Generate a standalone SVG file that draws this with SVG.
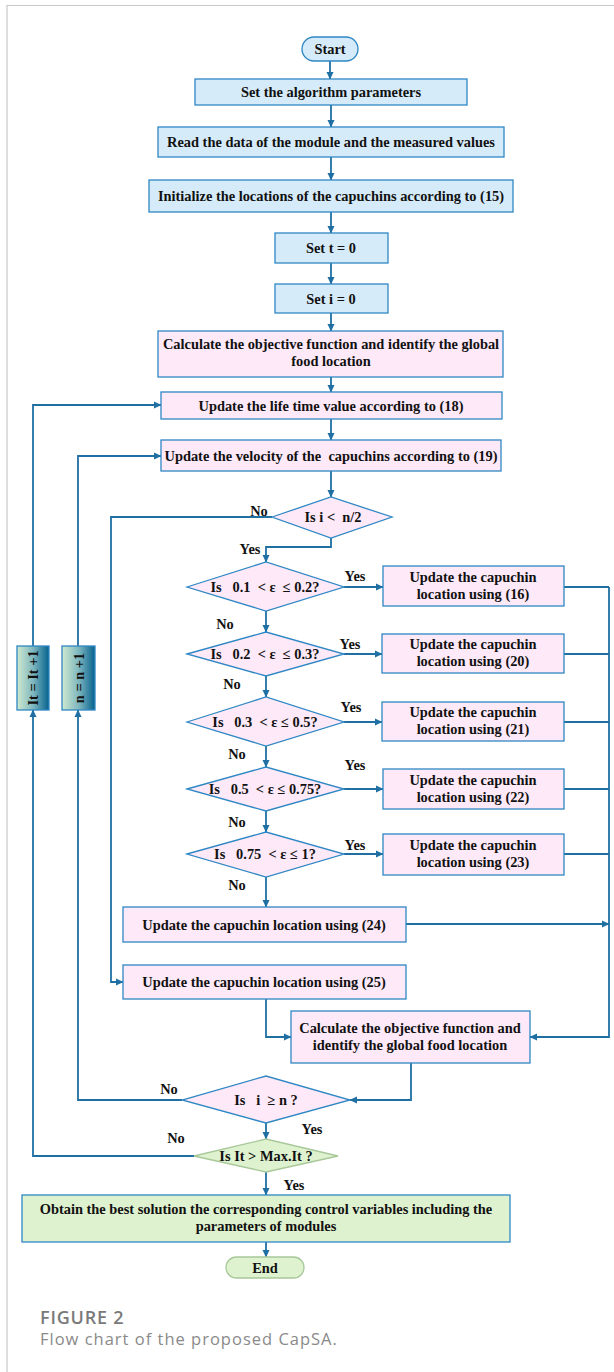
<svg xmlns="http://www.w3.org/2000/svg" width="614" height="1372" viewBox="0 0 614 1372">
<defs>
<marker id="ah" markerWidth="8" markerHeight="8" refX="7" refY="4" orient="auto" markerUnits="userSpaceOnUse">
<path d="M0,0.5 L7.5,4 L0,7.5 Z" fill="#1f6fa3"/>
</marker>
<linearGradient id="side" x1="0" y1="0" x2="1" y2="0">
<stop offset="0" stop-color="#cfe9cf"/>
<stop offset="0.5" stop-color="#7fb7bf"/>
<stop offset="1" stop-color="#06628e"/>
</linearGradient>
<style>
.t{font-family:"Liberation Serif","Times New Roman",serif;font-weight:bold;font-size:14.4px;fill:#111;text-anchor:middle;white-space:pre}
.lb{font-family:"Liberation Serif","Times New Roman",serif;font-weight:bold;font-size:14.4px;fill:#111;text-anchor:middle}
.blue{fill:#d6ebf9;stroke:#2f87c4;stroke-width:1.3}
.pink{fill:#fde9f8;stroke:#2f87c4;stroke-width:1.3}
.green{fill:#dff2cf;stroke:#2f87c4;stroke-width:1.3}
.gd{fill:#dff2cf;stroke:#a8c89a;stroke-width:1.3}
.sd{fill:url(#side);stroke:#2f87c4;stroke-width:1.3}
.c{fill:none;stroke:#1f6fa3;stroke-width:1.8}
.a{fill:none;stroke:#1f6fa3;stroke-width:1.8;marker-end:url(#ah)}
</style>
</defs>
<rect width="614" height="1372" fill="#ffffff"/>
<g id="frame"><path d="M7,1372 L7,5.5 L614,5.5" fill="none" stroke="#c8c8c8" stroke-width="1.2"/></g>

<g id="connectors">
<path class="a" d="M330,61 V79"/>
<path class="a" d="M331,105 V127"/>
<path class="a" d="M331,157 V180"/>
<path class="a" d="M331,212 V233"/>
<path class="a" d="M331,263 V284"/>
<path class="a" d="M331,313 V331"/>
<path class="a" d="M331,377 V392"/>
<path class="a" d="M331,419 V440"/>
<path class="a" d="M331,471 V497"/>
<path class="a" d="M331,538 V547 H266 V562"/>
<path class="a" d="M272,517 H111 V982 H123"/>
<path class="a" d="M344,587 H383"/>
<path class="a" d="M266,611 V632"/>
<path class="a" d="M344,654 H382"/>
<path class="a" d="M266,676 V697"/>
<path class="a" d="M344,722 H382"/>
<path class="a" d="M266,746 V767"/>
<path class="a" d="M344,789 H383"/>
<path class="a" d="M266,811 V832"/>
<path class="a" d="M344,854 H383"/>
<path class="a" d="M266,877 V907"/>
<path class="c" d="M564,587 H609"/>
<path class="c" d="M564,654 H609"/>
<path class="c" d="M564,722 H609"/>
<path class="c" d="M564,789 H609"/>
<path class="c" d="M564,854 H609"/>
<path class="a" d="M406,924 H609"/>
<path class="a" d="M609,587 V1037 H530"/>
<path class="a" d="M266,999 V1037 H291"/>
<path class="a" d="M411,1063 V1100 H350"/>
<path class="a" d="M182,1100 H78 V710"/>
<path class="a" d="M78,646 V456 H161"/>
<path class="a" d="M194,1156 H33 V710"/>
<path class="a" d="M33,646 V405 H161"/>
<path class="a" d="M266,1123 V1139"/>
<path class="a" d="M266,1172 V1195"/>
<path class="a" d="M266,1242 V1257"/>
</g>

<g id="start"><rect class="blue" x="302" y="37" width="56" height="24" rx="12"/><text class="t" x="330" y="54">Start</text></g>
<g id="set-params"><rect class="blue" x="195" y="79" width="272" height="26"/><text class="t" x="331" y="97">Set the algorithm parameters</text></g>
<g id="read-data"><rect class="blue" x="158" y="127" width="346" height="30"/><text class="t" x="331" y="147">Read the data of the module and the measured values</text></g>
<g id="init"><rect class="blue" x="149" y="180" width="364" height="32"/><text class="t" x="331" y="201">Initialize the locations of the capuchins according to (15)</text></g>
<g id="set-t"><rect class="blue" x="275" y="233" width="113" height="30"/><text class="t" x="331" y="253">Set t = 0</text></g>
<g id="set-i"><rect class="blue" x="275" y="284" width="113" height="29"/><text class="t" x="331" y="303.5">Set i = 0</text></g>
<g id="calc1"><rect class="pink" x="158" y="331" width="345" height="46"/><text class="t" x="331" y="349">Calculate the objective function and identify the global</text><text class="t" x="331" y="366">food location</text></g>
<g id="lifetime"><rect class="pink" x="161" y="392" width="341" height="27"/><text class="t" x="331" y="410.5">Update the life time value according to (18)</text></g>
<g id="velocity"><rect class="pink" x="161" y="440" width="340" height="31"/><text class="t" x="331" y="460.5">Update the velocity of the  capuchins according to (19)</text></g>

<g id="dec-half"><polygon class="pink" points="272,517 331,497 392,517 331,538"/><text class="t" x="333" y="522">Is i &lt;  n/2</text></g>
<g id="dec-1"><polygon class="pink" points="187,587 266,562 344,587 266,611"/><text class="t" x="265" y="592">Is   0.1  &lt; ε  ≤ 0.2?</text></g>
<g id="dec-2"><polygon class="pink" points="187,654 266,632 344,654 266,676"/><text class="t" x="265" y="659">Is   0.2  &lt; ε  ≤ 0.3?</text></g>
<g id="dec-3"><polygon class="pink" points="187,722 266,697 344,722 266,746"/><text class="t" x="265" y="727">Is   0.3  &lt; ε ≤ 0.5?</text></g>
<g id="dec-4"><polygon class="pink" points="187,789 266,767 344,789 266,811"/><text class="t" x="265" y="794">Is   0.5  &lt; ε ≤ 0.75?</text></g>
<g id="dec-5"><polygon class="pink" points="187,854 266,832 344,854 266,877"/><text class="t" x="265" y="859">Is   0.75  &lt; ε ≤ 1?</text></g>

<g id="upd16"><rect class="pink" x="383" y="566" width="181" height="40"/><text class="t" x="473" y="582">Update the capuchin</text><text class="t" x="473" y="599">location using (16)</text></g>
<g id="upd20"><rect class="pink" x="382" y="634" width="182" height="39"/><text class="t" x="473" y="649">Update the capuchin</text><text class="t" x="473" y="666">location using (20)</text></g>
<g id="upd21"><rect class="pink" x="382" y="702" width="182" height="39"/><text class="t" x="473" y="717">Update the capuchin</text><text class="t" x="473" y="734">location using (21)</text></g>
<g id="upd22"><rect class="pink" x="383" y="769" width="181" height="40"/><text class="t" x="473" y="785">Update the capuchin</text><text class="t" x="473" y="802">location using (22)</text></g>
<g id="upd23"><rect class="pink" x="383" y="834" width="181" height="41"/><text class="t" x="473" y="850">Update the capuchin</text><text class="t" x="473" y="867">location using (23)</text></g>
<g id="upd24"><rect class="pink" x="123" y="907" width="283" height="35"/><text class="t" x="264" y="929.5">Update the capuchin location using (24)</text></g>
<g id="upd25"><rect class="pink" x="123" y="965" width="283" height="34"/><text class="t" x="264" y="987">Update the capuchin location using (25)</text></g>
<g id="calc2"><rect class="pink" x="291" y="1011" width="239" height="52"/><text class="t" x="410" y="1033">Calculate the objective function and</text><text class="t" x="410" y="1050">identify the global food location</text></g>
<g id="dec-n"><polygon class="pink" points="182,1100 266,1076 350,1100 266,1123"/><text class="t" x="266" y="1105">Is   i  ≥ n ?</text></g>
<g id="dec-it"><polygon class="gd" points="194,1156 266,1139 338,1156 266,1172"/><text class="t" x="266" y="1161">Is It &gt; Max.It ?</text></g>
<g id="obtain"><rect class="green" x="22" y="1195" width="488" height="47"/><text class="t" x="266" y="1214">Obtain the best solution the corresponding control variables including the</text><text class="t" x="266" y="1231">parameters of modules</text></g>
<g id="end"><rect class="gd" x="226" y="1257" width="78" height="21" rx="10.5"/><text class="t" x="265" y="1272.5">End</text></g>

<g id="it-inc"><rect class="sd" x="17" y="646" width="32" height="64"/><text class="t" transform="translate(38,678) rotate(-90)">It = It +1</text></g>
<g id="n-inc"><rect class="sd" x="62" y="646" width="33" height="64"/><text class="t" transform="translate(83.5,678) rotate(-90)">n = n +1</text></g>

<g id="labels">
<text class="lb" x="259" y="516">No</text>
<text class="lb" x="250" y="554">Yes</text>
<text class="lb" x="355" y="581">Yes</text>
<text class="lb" x="225" y="629">No</text>
<text class="lb" x="350" y="649">Yes</text>
<text class="lb" x="232" y="689">No</text>
<text class="lb" x="351" y="712">Yes</text>
<text class="lb" x="237" y="759">No</text>
<text class="lb" x="355" y="770">Yes</text>
<text class="lb" x="237" y="827">No</text>
<text class="lb" x="355" y="850">Yes</text>
<text class="lb" x="237" y="890">No</text>
<text class="lb" x="169" y="1094">No</text>
<text class="lb" x="312" y="1134">Yes</text>
<text class="lb" x="176" y="1143">No</text>
<text class="lb" x="294" y="1190">Yes</text>
</g>

<g id="caption">
<text x="40" y="1324" style="font-family:'Open Sans','Noto Sans',sans-serif;font-size:18px;font-weight:600;fill:#7a7a7a;letter-spacing:0.8px">FIGURE 2</text>
<text x="40" y="1345" style="font-family:'Open Sans','Noto Sans',sans-serif;font-size:16.5px;fill:#8a8a8a;letter-spacing:1px">Flow chart of the proposed CapSA.</text>
</g>
</svg>
